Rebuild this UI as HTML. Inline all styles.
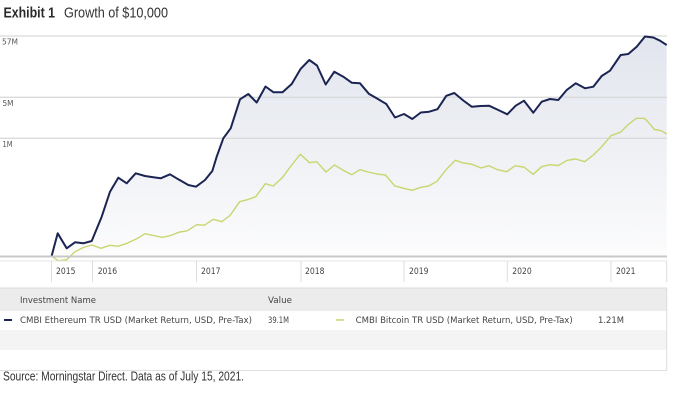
<!DOCTYPE html>
<html><head><meta charset="utf-8"><style>
html,body{margin:0;padding:0;background:#fff;}
svg{display:block;}
</style></head><body>
<svg width="675" height="415" viewBox="0 0 675 415" xmlns="http://www.w3.org/2000/svg">
<defs>
<linearGradient id="g" gradientUnits="userSpaceOnUse" x1="0" y1="36" x2="0" y2="256">
<stop offset="0" stop-color="#e2e5ee"/>
<stop offset="0.5" stop-color="#eef0f4"/>
<stop offset="1" stop-color="#fcfcfd"/>
</linearGradient>
</defs>
<rect width="675" height="415" fill="#fff"/>
<text x="3.5" y="17.5" font-family="Liberation Sans, sans-serif" font-weight="bold" font-size="15" fill="#2a2a2a" textLength="51.5" lengthAdjust="spacingAndGlyphs">Exhibit 1</text>
<text x="64" y="17.5" font-family="Liberation Sans, sans-serif" font-size="15" fill="#333" textLength="104" lengthAdjust="spacingAndGlyphs">Growth of $10,000</text>

<polygon fill="url(#g)" points="51.7,255.7 57.7,233.3 66.7,248.3 75,242.3 83.3,243.3 91.7,241 101.7,216.7 110,191.7 118.3,177.7 126.7,183.3 135.7,173.3 145,176 153.3,177.3 160.7,178.3 170,174.3 178.3,179.3 188.3,185 196,186.7 205,180 212.3,171 216.7,156.7 223.3,138.3 230.7,128.3 240,99.3 248.3,94 256.7,102.5 265.5,86.5 273.5,92.3 282.5,92.3 291.7,84 300.7,68.8 309.3,60 317,65.5 325.7,84.5 334.3,71.7 343.3,76.7 351.7,82.7 360,83.3 368.8,93.7 377.5,98.8 386.3,104 395,117.5 404,114 412.3,119 420.8,112.5 429.2,111.7 437.5,109.2 446.3,95.8 454.3,93 463.3,100.5 471.7,106.7 480.7,106 489,105.7 498.3,110 507.3,114.3 515.7,105.7 524,100.7 533.3,112.7 541.7,101.7 550,99 558.3,100 566.7,90 575.7,83.3 585,88.3 593.3,86.7 601.7,76 610,70.7 620.7,55 628.3,54 636.7,46.7 645,36.5 653.3,37.5 660,40.7 666.7,45 666.7,256 51.7,256"/>

<g stroke="#dadada" stroke-width="1.3">
<line x1="0" y1="36" x2="667" y2="36"/>
<line x1="0" y1="97.3" x2="667" y2="97.3"/>
<line x1="0" y1="138.3" x2="667" y2="138.3"/>
</g>
<g font-family="DejaVu Sans, sans-serif" font-size="7.5" fill="#555">
<text x="2" y="44.5" textLength="16" lengthAdjust="spacingAndGlyphs">57M</text>
<text x="2.5" y="106" textLength="11" lengthAdjust="spacingAndGlyphs">5M</text>
<text x="2.5" y="147" textLength="10" lengthAdjust="spacingAndGlyphs">1M</text>
</g>

<polyline fill="none" stroke="#c9d56f" stroke-width="1.4" stroke-linejoin="round" points="51.7,256.3 58.3,260.7 66.7,259.7 75,251.7 83.3,247.5 92,245 101,248.3 109.7,245.3 118.3,246.2 127,243.3 136.7,238.8 145,233.7 153.3,235.5 162.5,237.3 170.8,235.5 179,232.2 187.2,230.8 196.7,224.7 204.5,225.2 213.3,219.3 221.7,221.7 230,215.5 239.7,201.7 247.5,199.7 255.8,196.7 265.3,183.7 273.3,186 282.5,177.5 291.3,165.5 300.3,154.2 309.6,162.7 316.7,161.7 326,172 334.6,165 343.3,170.3 351.7,174.7 360,169.7 368.3,172 376.7,174 385.5,175 394.6,185.8 403.6,188.3 412.3,190.3 420.8,187.3 428.6,186 437,181.3 446.7,169 455.3,160.3 463.3,163 471.7,164.2 481,168 489,165.7 497.5,169.7 506.7,171.7 515,165.8 523.7,167 533.3,174.3 541.5,166.7 550,164.7 558.3,165.5 567.2,160.3 575.7,159 584.7,161.7 593.3,155 601.7,146.7 611,135.7 620.5,132.2 627.7,125 636.3,118.3 644,118.3 646.7,120.3 654.5,129.5 661.5,130.8 666.7,134"/>

<polyline fill="none" stroke="#1b2452" stroke-width="2" stroke-linejoin="round" points="51.7,255.7 57.7,233.3 66.7,248.3 75,242.3 83.3,243.3 91.7,241 101.7,216.7 110,191.7 118.3,177.7 126.7,183.3 135.7,173.3 145,176 153.3,177.3 160.7,178.3 170,174.3 178.3,179.3 188.3,185 196,186.7 205,180 212.3,171 216.7,156.7 223.3,138.3 230.7,128.3 240,99.3 248.3,94 256.7,102.5 265.5,86.5 273.5,92.3 282.5,92.3 291.7,84 300.7,68.8 309.3,60 317,65.5 325.7,84.5 334.3,71.7 343.3,76.7 351.7,82.7 360,83.3 368.8,93.7 377.5,98.8 386.3,104 395,117.5 404,114 412.3,119 420.8,112.5 429.2,111.7 437.5,109.2 446.3,95.8 454.3,93 463.3,100.5 471.7,106.7 480.7,106 489,105.7 498.3,110 507.3,114.3 515.7,105.7 524,100.7 533.3,112.7 541.7,101.7 550,99 558.3,100 566.7,90 575.7,83.3 585,88.3 593.3,86.7 601.7,76 610,70.7 620.7,55 628.3,54 636.7,46.7 645,36.5 653.3,37.5 660,40.7 666.7,45"/>

<line x1="0" y1="256.5" x2="667" y2="256.5" stroke="#c8c8c8" stroke-width="2"/>
<line x1="0" y1="261" x2="667" y2="261" stroke="#e4e4e4" stroke-width="1"/>
<g stroke="#dedede" stroke-width="1">
<line x1="51.5" y1="261" x2="51.5" y2="282"/>
<line x1="92.5" y1="261" x2="92.5" y2="282"/>
<line x1="196.5" y1="261" x2="196.5" y2="282"/>
<line x1="301" y1="261" x2="301" y2="282"/>
<line x1="404" y1="261" x2="404" y2="282"/>
<line x1="507.3" y1="261" x2="507.3" y2="282"/>
<line x1="611" y1="261" x2="611" y2="282"/>
<line x1="666.7" y1="261" x2="666.7" y2="282"/>
</g>
<g font-family="DejaVu Sans, sans-serif" font-size="8.5" fill="#444">
<text x="56" y="274" textLength="19.5" lengthAdjust="spacingAndGlyphs">2015</text>
<text x="97.7" y="274" textLength="19.5" lengthAdjust="spacingAndGlyphs">2016</text>
<text x="201" y="274" textLength="19.5" lengthAdjust="spacingAndGlyphs">2017</text>
<text x="305" y="274" textLength="19.5" lengthAdjust="spacingAndGlyphs">2018</text>
<text x="409" y="274" textLength="19.5" lengthAdjust="spacingAndGlyphs">2019</text>
<text x="512.3" y="274" textLength="19.5" lengthAdjust="spacingAndGlyphs">2020</text>
<text x="616" y="274" textLength="19.5" lengthAdjust="spacingAndGlyphs">2021</text>
</g>

<rect x="0" y="288" width="667" height="23" fill="#ececec"/>
<line x1="0" y1="288" x2="667" y2="288" stroke="#dcdcdc" stroke-width="1"/>
<rect x="0" y="330" width="667" height="20" fill="#f4f4f4"/>
<line x1="0" y1="370.5" x2="667" y2="370.5" stroke="#e0e0e0" stroke-width="1"/>
<line x1="666.7" y1="288" x2="666.7" y2="370.5" stroke="#dcdcdc" stroke-width="1"/>

<g font-family="DejaVu Sans, sans-serif" font-size="8.5" fill="#444">
<text x="20" y="303" textLength="76" lengthAdjust="spacingAndGlyphs">Investment Name</text>
<text x="268" y="303" textLength="24" lengthAdjust="spacingAndGlyphs">Value</text>
<text x="20" y="323" textLength="232" lengthAdjust="spacingAndGlyphs">CMBI Ethereum TR USD (Market Return, USD, Pre-Tax)</text>
<text x="268" y="323" textLength="21" lengthAdjust="spacingAndGlyphs">39.1M</text>
<text x="355.7" y="323" textLength="217" lengthAdjust="spacingAndGlyphs">CMBI Bitcoin TR USD (Market Return, USD, Pre-Tax)</text>
<text x="598" y="323" textLength="26" lengthAdjust="spacingAndGlyphs">1.21M</text>
</g>
<rect x="4" y="319" width="8" height="2" fill="#1b2452"/>
<rect x="336" y="319.2" width="8" height="1.5" fill="#c9d56f"/>

<text x="3" y="380.5" font-family="Liberation Sans, sans-serif" font-size="12.5" fill="#333" textLength="241" lengthAdjust="spacingAndGlyphs">Source: Morningstar Direct. Data as of July 15, 2021.</text>
</svg>
</body></html>
